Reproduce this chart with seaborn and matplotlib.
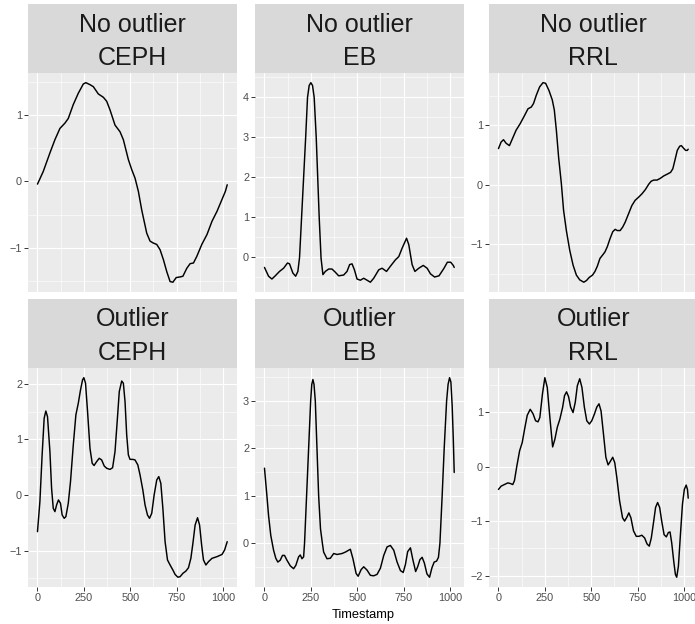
import numpy as np
import pandas as pd
import matplotlib
matplotlib.use("Agg")
import matplotlib.pyplot as plt
from matplotlib.ticker import MultipleLocator, AutoMinorLocator
import seaborn as sns

# ---- data: light-curve values per (group, class) ----
groups = ["No outlier", "Outlier"]
classes = ["CEPH", "EB", "RRL"]

t_no_ceph = [0, 31, 67, 94, 121, 148, 166, 193, 220, 247, 261, 283, 301, 328, 355, 373, 391, 418,
             445, 463, 490, 508, 526, 544, 562, 589, 607, 625, 643, 661, 679, 697, 715, 730, 748,
             769, 784, 805, 823, 841, 859, 886, 914, 941, 968, 995, 1013, 1023]
v_no_ceph = [-0.04, 0.15, 0.43, 0.63, 0.80, 0.88, 0.95, 1.16, 1.33, 1.47, 1.49, 1.46, 1.43, 1.32,
             1.27, 1.21, 1.08, 0.85, 0.75, 0.63, 0.33, 0.18, 0.05, -0.15, -0.43, -0.78, -0.90,
             -0.93, -0.95, -1.03, -1.18, -1.36, -1.51, -1.52, -1.45, -1.44, -1.43, -1.31, -1.24,
             -1.23, -1.13, -0.95, -0.80, -0.60, -0.45, -0.27, -0.15, -0.05]

t_no_eb = [0, 22, 40, 58, 81, 103, 124, 135, 153, 168, 180, 189, 200, 211, 222, 232, 241, 250,
           259, 268, 279, 287, 295, 305, 315, 328, 346, 364, 382, 400, 427, 445, 459, 472, 485,
           499, 517, 535, 553, 571, 589, 616, 634, 658, 679, 706, 724, 742, 766, 778, 796, 811,
           832, 856, 877, 895, 917, 941, 968, 986, 1004, 1018, 1023]
v_no_eb = [-0.25, -0.47, -0.54, -0.46, -0.35, -0.27, -0.14, -0.16, -0.39, -0.47, -0.35, 0.0, 1.0,
           2.0, 3.0, 4.0, 4.3, 4.37, 4.3, 4.0, 3.0, 2.0, 1.0, -0.02, -0.43, -0.35, -0.29, -0.29,
           -0.37, -0.46, -0.44, -0.35, -0.18, -0.16, -0.31, -0.54, -0.57, -0.52, -0.57, -0.62,
           -0.52, -0.31, -0.27, -0.35, -0.22, -0.06, 0.02, 0.23, 0.48, 0.32, -0.18, -0.35, -0.27,
           -0.20, -0.27, -0.41, -0.49, -0.46, -0.27, -0.12, -0.12, -0.20, -0.25]

t_no_rrl = [0, 14, 27, 41, 59, 77, 95, 117, 141, 159, 177, 189, 204, 222, 240, 254, 272, 290,
            301, 312, 324, 339, 351, 366, 384, 402, 420, 438, 460, 475, 489, 507, 520, 533, 547,
            562, 574, 587, 601, 616, 629, 641, 656, 670, 683, 701, 719, 737, 755, 774, 792, 810,
            823, 837, 855, 873, 891, 910, 928, 940, 951, 964, 977, 986, 997, 1009, 1018, 1023]
v_no_rrl = [0.61, 0.72, 0.76, 0.70, 0.66, 0.79, 0.92, 1.03, 1.17, 1.28, 1.31, 1.37, 1.51, 1.65,
            1.72, 1.71, 1.59, 1.43, 1.26, 0.92, 0.47, 0.02, -0.43, -0.77, -1.10, -1.35, -1.52,
            -1.60, -1.64, -1.61, -1.56, -1.52, -1.46, -1.37, -1.24, -1.18, -1.13, -1.04, -0.91,
            -0.79, -0.75, -0.77, -0.77, -0.71, -0.63, -0.49, -0.35, -0.26, -0.21, -0.15, -0.08,
            0.01, 0.06, 0.08, 0.08, 0.11, 0.15, 0.18, 0.21, 0.27, 0.41, 0.58, 0.65, 0.66, 0.62,
            0.58, 0.58, 0.60]

t_out_ceph = [0, 13, 25, 36, 45, 54, 67, 76, 85, 94, 103, 113, 124, 133, 144, 153, 166, 178,
              193, 207, 220, 232, 243, 250, 259, 270, 283, 295, 305, 319, 333, 346, 360, 373,
              391, 405, 418, 431, 441, 454, 463, 472, 481, 490, 499, 514, 526, 541, 553, 568,
              580, 593, 604, 616, 629, 643, 654, 665, 676, 688, 701, 715, 730, 742, 757, 769,
              784, 800, 814, 827, 838, 850, 863, 874, 885, 895, 908, 922, 941, 968, 995, 1009,
              1023]
v_out_ceph = [-0.66, -0.12, 0.72, 1.38, 1.51, 1.41, 0.78, 0.12, -0.24, -0.30, -0.18, -0.09,
              -0.15, -0.36, -0.42, -0.39, -0.15, 0.24, 0.90, 1.44, 1.65, 1.89, 2.07, 2.11, 2.01,
              1.50, 0.84, 0.57, 0.53, 0.60, 0.66, 0.63, 0.52, 0.48, 0.46, 0.49, 0.78, 1.38, 1.86,
              2.05, 2.01, 1.68, 1.08, 0.72, 0.64, 0.64, 0.63, 0.54, 0.36, 0.09, -0.18, -0.36,
              -0.42, -0.33, 0.00, 0.27, 0.33, 0.21, -0.24, -0.84, -1.17, -1.26, -1.35, -1.43,
              -1.48, -1.47, -1.41, -1.37, -1.31, -1.14, -0.87, -0.54, -0.41, -0.54, -0.90, -1.17,
              -1.26, -1.20, -1.14, -1.11, -1.07, -0.99, -0.84]

t_out_eb = [0, 13, 22, 34, 49, 61, 72, 85, 97, 108, 121, 139, 157, 169, 184, 193, 202, 211,
            216, 227, 238, 249, 255, 261, 267, 274, 283, 292, 302, 312, 319, 337, 355, 373, 391,
            418, 436, 454, 463, 477, 494, 505, 521, 535, 553, 571, 589, 607, 625, 643, 661, 679,
            697, 715, 733, 748, 760, 772, 787, 800, 815, 826, 838, 850, 862, 876, 890, 903, 915,
            928, 938, 946, 958, 969, 982, 990, 998, 1005, 1012, 1018, 1023]
v_out_eb = [1.58, 1.00, 0.58, 0.16, -0.15, -0.32, -0.40, -0.36, -0.26, -0.26, -0.36, -0.48,
            -0.54, -0.47, -0.29, -0.25, -0.33, -0.29, 0.0, 1.0, 2.0, 3.0, 3.35, 3.45, 3.35, 3.0,
            2.0, 1.0, 0.3, 0.0, -0.19, -0.33, -0.32, -0.22, -0.24, -0.22, -0.19, -0.15, -0.13,
            -0.33, -0.64, -0.70, -0.56, -0.50, -0.57, -0.68, -0.69, -0.66, -0.53, -0.26, -0.08,
            -0.05, -0.15, -0.40, -0.58, -0.62, -0.45, -0.18, -0.10, -0.35, -0.60, -0.50, -0.35,
            -0.30, -0.42, -0.65, -0.72, -0.52, -0.40, -0.38, -0.30, 0.0, 1.0, 2.0, 3.0, 3.35,
            3.49, 3.4, 2.9, 2.2, 1.49]

t_out_rrl = [0, 14, 32, 50, 63, 77, 86, 99, 114, 128, 141, 155, 171, 186, 200, 213, 223, 237,
             250, 263, 277, 292, 304, 317, 331, 346, 356, 367, 378, 389, 402, 414, 425, 438, 450,
             463, 476, 490, 503, 517, 530, 542, 553, 566, 579, 591, 604, 616, 627, 638, 653, 669,
             680, 692, 703, 714, 728, 743, 757, 773, 788, 801, 813, 824, 837, 847, 858, 869, 880,
             893, 905, 916, 925, 934, 945, 954, 961, 970, 981, 992, 1002, 1012, 1019, 1023]
v_out_rrl = [-0.42, -0.36, -0.33, -0.30, -0.31, -0.33, -0.26, 0.01, 0.29, 0.44, 0.69, 0.94,
             1.05, 0.97, 0.84, 0.82, 0.90, 1.33, 1.63, 1.45, 0.90, 0.36, 0.50, 0.72, 0.87, 1.09,
             1.30, 1.37, 1.28, 1.09, 0.99, 1.18, 1.48, 1.61, 1.45, 1.09, 0.84, 0.78, 0.84, 0.96,
             1.09, 1.15, 1.02, 0.60, 0.17, 0.03, 0.10, 0.17, 0.07, -0.20, -0.63, -0.94, -1.00,
             -0.93, -0.85, -0.94, -1.18, -1.28, -1.28, -1.26, -1.31, -1.42, -1.46, -1.31, -1.00,
             -0.75, -0.66, -0.75, -1.00, -1.25, -1.29, -1.21, -1.20, -1.40, -1.74, -1.98, -2.03,
             -1.83, -1.25, -0.69, -0.42, -0.34, -0.42, -0.58]

series = {
    ("No outlier", "CEPH"): (t_no_ceph, v_no_ceph),
    ("No outlier", "EB"): (t_no_eb, v_no_eb),
    ("No outlier", "RRL"): (t_no_rrl, v_no_rrl),
    ("Outlier", "CEPH"): (t_out_ceph, v_out_ceph),
    ("Outlier", "EB"): (t_out_eb, v_out_eb),
    ("Outlier", "RRL"): (t_out_rrl, v_out_rrl),
}

frames = []
for (g, c), (t, v) in series.items():
    frames.append(pd.DataFrame({"group": g, "class": c, "Timestamp": t, "value": v}))
df = pd.concat(frames, ignore_index=True)

# ---- ggplot-like grey theme ----
sns.set_theme(style="darkgrid")
plt.rcParams["font.family"] = ["Liberation Sans", "DejaVu Sans"]
plt.rcParams["axes.unicode_minus"] = True

W, H = 695, 624
fig = plt.figure(figsize=(W / 100, H / 100), dpi=100)
fig.patch.set_facecolor("white")

col_left = [28, 255, 489]
panel_w = 208.7
strip_top = [4, 299]
strip_h = 68.7
panel_h = 219.5

def frac_rect(left, top, width, height):
    return [left / W, 1 - (top + height) / H, width / W, height / H]

for r, g in enumerate(groups):
    for c, cls in enumerate(classes):
        sub = df[(df["group"] == g) & (df["class"] == cls)]

        # strip
        sax = fig.add_axes(frac_rect(col_left[c], strip_top[r], panel_w, strip_h))
        sax.set_facecolor("#D9D9D9")
        sax.set_xticks([]); sax.set_yticks([])
        sax.grid(False)
        for s in sax.spines.values():
            s.set_visible(False)
        sax.text(0.5, (strip_h - 27.5) / strip_h, g, ha="center", va="baseline",
                 fontsize=18, color="#1A1A1A", transform=sax.transAxes)
        sax.text(0.5, (strip_h - 61) / strip_h, cls, ha="center", va="baseline",
                 fontsize=18, color="#1A1A1A", transform=sax.transAxes)

        # panel
        ax = fig.add_axes(frac_rect(col_left[c], strip_top[r] + strip_h, panel_w, panel_h))
        ax.set_facecolor("#EBEBEB")
        sns.lineplot(data=sub, x="Timestamp", y="value", ax=ax, color="black",
                     linewidth=1.05, estimator=None)
        ax.set_xlabel(""); ax.set_ylabel("")

        xmin, xmax = sub["Timestamp"].min(), sub["Timestamp"].max()
        ymin, ymax = sub["value"].min(), sub["value"].max()
        xp, yp = 0.05 * (xmax - xmin), 0.05 * (ymax - ymin)
        ax.set_xlim(xmin - xp, xmax + xp)
        ax.set_ylim(ymin - yp, ymax + yp)

        ax.xaxis.set_major_locator(MultipleLocator(250))
        ax.xaxis.set_minor_locator(AutoMinorLocator(2))
        ax.yaxis.set_major_locator(MultipleLocator(1))
        ax.yaxis.set_minor_locator(AutoMinorLocator(2))
        ax.grid(True, which="major", color="white", linewidth=0.8)
        ax.grid(True, which="minor", color="white", linewidth=0.4)
        ax.set_axisbelow(True)
        for s in ax.spines.values():
            s.set_visible(False)

        ax.tick_params(axis="both", which="major", length=2.75, width=0.7, color="#333333",
                       labelsize=7.8, labelcolor="#4D4D4D", pad=1.5,
                       left=True, bottom=(r == 1), labelbottom=(r == 1))
        ax.tick_params(axis="both", which="minor", length=0)

fig.text((28 + 489 + panel_w) / 2 / W, 1 - 617.7 / H, "Timestamp", ha="center",
         va="baseline", fontsize=9.3, color="black")

fig.savefig("out.png", dpi=100, facecolor="white")
